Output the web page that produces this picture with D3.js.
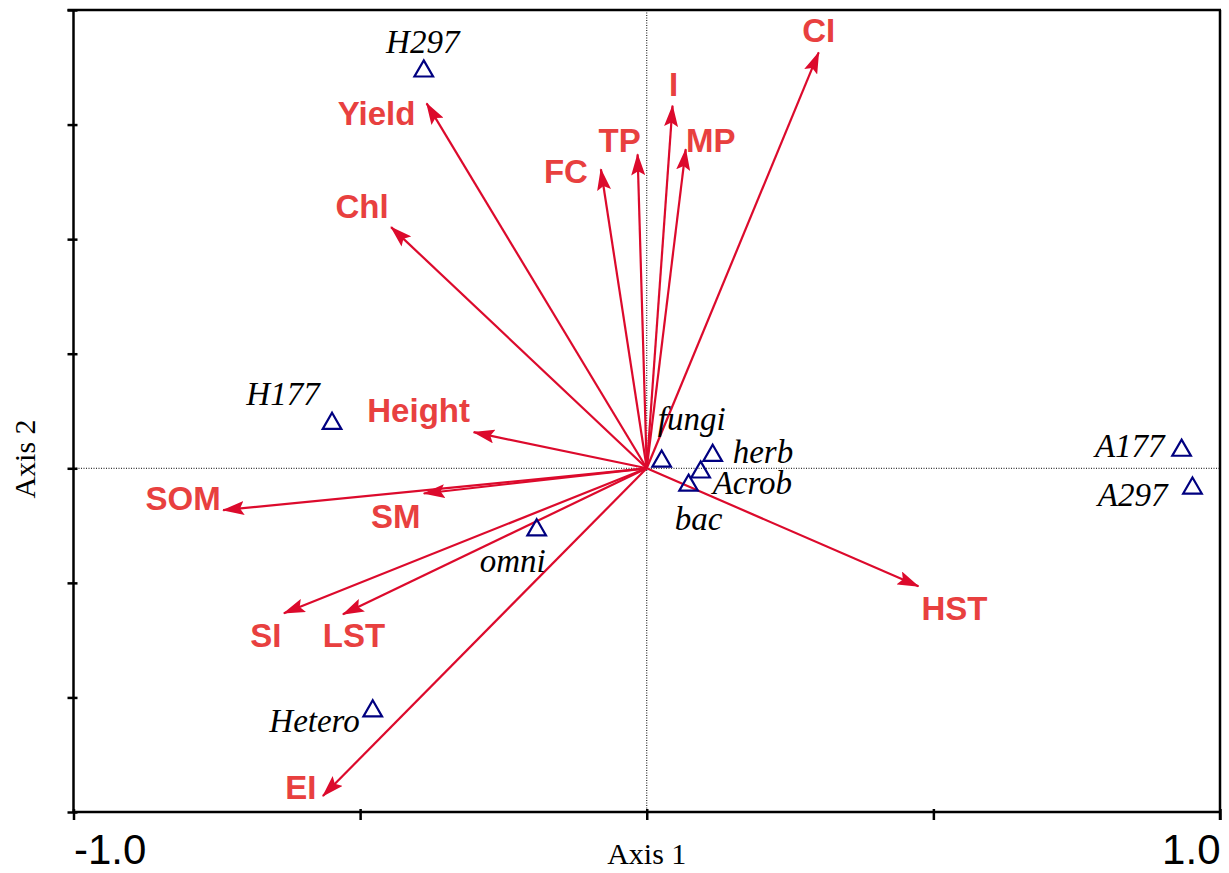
<!DOCTYPE html>
<html>
<head>
<meta charset="utf-8">
<script src="https://cdn.jsdelivr.net/npm/d3@7"></script>
<style>
  html, body { margin: 0; padding: 0; background: #fff; }
  svg { display: block; }
</style>
</head>
<body>
<svg id="chart" width="1229" height="873"></svg>
<script>
// Environmental variables (biplot arrows): name, axis-1 score, axis-2 score
const envNames = ["CI", "I", "MP", "TP", "FC", "Yield", "Chl", "Height", "SOM", "SM", "SI", "LST", "EI", "HST"];
const envAxis1 = [0.300, 0.045, 0.068, -0.016, -0.080, -0.384, -0.446, -0.302, -0.739, -0.389, -0.633, -0.530, -0.565, 0.474];
const envAxis2 = [0.726, 0.633, 0.557, 0.548, 0.522, 0.637, 0.421, 0.063, -0.073, -0.044, -0.253, -0.255, -0.572, -0.206];

// Samples / nematode groups (triangles)
const sppNames = ["H297", "H177", "Hetero", "omni", "fungi", "herb", "Acrob", "bac", "A177", "A297"];
const sppAxis1 = [-0.389, -0.549, -0.478, -0.192, 0.026, 0.115, 0.094, 0.073, 0.933, 0.952];
const sppAxis2 = [0.695, 0.080, -0.422, -0.106, 0.014, 0.024, -0.005, -0.028, 0.033, -0.033];

// Axis ticks
const xTicks = [-1.0, -0.5, 0, 0.5, 1.0];
const xTickLabels = ["-1.0", "", "", "", "1.0"];
const yTicks = [-0.6, -0.4, -0.2, 0, 0.2, 0.4, 0.6, 0.8];

// Label placement (pixel offsets from arrow tip / triangle centre, and anchor)
const envLabelLayout = {
  CI: [0, -10, "middle"], I: [1, -10, "middle"], MP: [25, 3, "middle"], TP: [-18, -2, "middle"],
  FC: [-35, 14, "middle"], Yield: [-50, 22, "middle"], Chl: [-29, -9, "middle"], Height: [-55, -10, "middle"],
  SOM: [-40, 0, "middle"], SM: [-28, 35, "middle"], SI: [-18, 34, "middle"], LST: [11, 33, "middle"],
  EI: [-22, 3, "middle"], HST: [36, 34, "middle"]
};
const sppLabelLayout = {
  H297: [-1, -17, "middle"], H177: [-49, -17, "middle"], Hetero: [-13, 22, "end"], omni: [-24, 43, "middle"],
  fungi: [30, -30, "middle"], herb: [20, 8, "start"], Acrob: [12, 23, "start"], bac: [10, 46, "middle"],
  A177: [-17, 8, "end"], A297: [-25, 19, "end"]
};

const svg = d3.select("#chart");
const plotLeft = 73.5, plotRight = 1220, plotTop = 10, plotBottom = 812;

const x = d3.scaleLinear().domain([-1, 1]).range([plotLeft, plotRight]);
const y = d3.scaleLinear().domain([-0.6, 0.8]).range([plotBottom, plotTop]);

const arrowColor = "#dc0a2c";
const envTextColor = "#e8403f";
const triColor = "#000080";

// Arrowhead marker
svg.append("defs").append("marker")
  .attr("id", "head")
  .attr("viewBox", "0 0 22 14")
  .attr("refX", 21).attr("refY", 7)
  .attr("markerWidth", 22).attr("markerHeight", 14)
  .attr("markerUnits", "userSpaceOnUse")
  .attr("orient", "auto")
  .append("path")
  .attr("d", "M0,0 L22,7 L0,14 L4,7 Z")
  .attr("fill", arrowColor);

// Dotted zero lines
svg.append("line")
  .attr("x1", plotLeft).attr("x2", plotRight).attr("y1", y(0)).attr("y2", y(0))
  .attr("stroke", "#000").attr("stroke-width", 1).attr("stroke-dasharray", "1,1.5");
svg.append("line")
  .attr("x1", x(0)).attr("x2", x(0)).attr("y1", plotTop).attr("y2", plotBottom)
  .attr("stroke", "#000").attr("stroke-width", 1).attr("stroke-dasharray", "1,1.5");

// Frame: top and right edges
svg.append("line").attr("x1", plotLeft - 6).attr("x2", plotRight + 1).attr("y1", plotTop).attr("y2", plotTop)
  .attr("stroke", "#000").attr("stroke-width", 2.5);
svg.append("line").attr("x1", plotRight).attr("x2", plotRight).attr("y1", plotTop).attr("y2", plotBottom + 8)
  .attr("stroke", "#000").attr("stroke-width", 2.5);

// Left axis
const yAxis = d3.axisLeft(y).tickValues(yTicks).tickFormat("").tickSizeInner(6).tickSizeOuter(0);
const gy = svg.append("g").attr("transform", `translate(${plotLeft},0)`).call(yAxis);
gy.select(".domain").attr("stroke-width", 2.5).attr("d", `M0,${plotTop}V${plotBottom + 1}`);
gy.selectAll(".tick line").attr("stroke-width", 2.5).attr("x2", -6).attr("x1", 4);

// Bottom axis
const xAxis = d3.axisBottom(x).tickValues(xTicks).tickFormat((d, i) => xTickLabels[i]).tickSizeInner(8).tickSizeOuter(0);
const gx = svg.append("g").attr("transform", `translate(0,${plotBottom})`).call(xAxis);
gx.select(".domain").attr("stroke-width", 2.5).attr("d", `M${plotLeft - 1},0H${plotRight + 1}`);
gx.selectAll(".tick line").attr("stroke-width", 2.5).attr("y1", -3).attr("y2", 8);
gx.selectAll(".tick text")
  .attr("font-family", "Liberation Sans, Arial, sans-serif")
  .attr("font-size", 42).attr("fill", "#000")
  .attr("y", 52).attr("dy", 0)
  .attr("text-anchor", (d, i) => i === 0 ? "start" : "end");

// Axis titles
svg.append("text").attr("x", x(0)).attr("y", 864)
  .attr("text-anchor", "middle")
  .attr("font-family", "Liberation Serif, Times New Roman, serif").attr("font-size", 30)
  .text("Axis 1");
svg.append("text").attr("transform", `translate(35,459) rotate(-90)`)
  .attr("text-anchor", "middle")
  .attr("font-family", "Liberation Serif, Times New Roman, serif").attr("font-size", 30)
  .text("Axis 2");

// Environmental arrows
const env = envNames.map((n, i) => ({ name: n, a1: envAxis1[i], a2: envAxis2[i] }));
svg.append("g").selectAll("line").data(env).join("line")
  .attr("x1", x(0)).attr("y1", y(0))
  .attr("x2", d => x(d.a1)).attr("y2", d => y(d.a2))
  .attr("stroke", arrowColor).attr("stroke-width", 2.2)
  .attr("marker-end", "url(#head)");

svg.append("g").selectAll("text").data(env).join("text")
  .attr("x", d => x(d.a1) + envLabelLayout[d.name][0])
  .attr("y", d => y(d.a2) + envLabelLayout[d.name][1])
  .attr("text-anchor", d => envLabelLayout[d.name][2])
  .attr("font-family", "Liberation Sans, Arial, sans-serif")
  .attr("font-weight", "bold").attr("font-size", 33)
  .attr("fill", envTextColor)
  .text(d => d.name);

// Species triangles
const spp = sppNames.map((n, i) => ({ name: n, a1: sppAxis1[i], a2: sppAxis2[i] }));
const tri = d3.symbol().type(d3.symbolTriangle).size(150);
svg.append("g").selectAll("path").data(spp).join("path")
  .attr("d", tri)
  .attr("transform", d => `translate(${x(d.a1)},${y(d.a2) + 1})`)
  .attr("fill", "none").attr("stroke", triColor).attr("stroke-width", 2.2);

svg.append("g").selectAll("text").data(spp).join("text")
  .attr("x", d => x(d.a1) + sppLabelLayout[d.name][0])
  .attr("y", d => y(d.a2) + sppLabelLayout[d.name][1])
  .attr("text-anchor", d => sppLabelLayout[d.name][2])
  .attr("font-family", "Liberation Serif, Times New Roman, serif")
  .attr("font-style", "italic").attr("font-size", 33)
  .attr("fill", "#000")
  .text(d => d.name);
</script>
</body>
</html>
